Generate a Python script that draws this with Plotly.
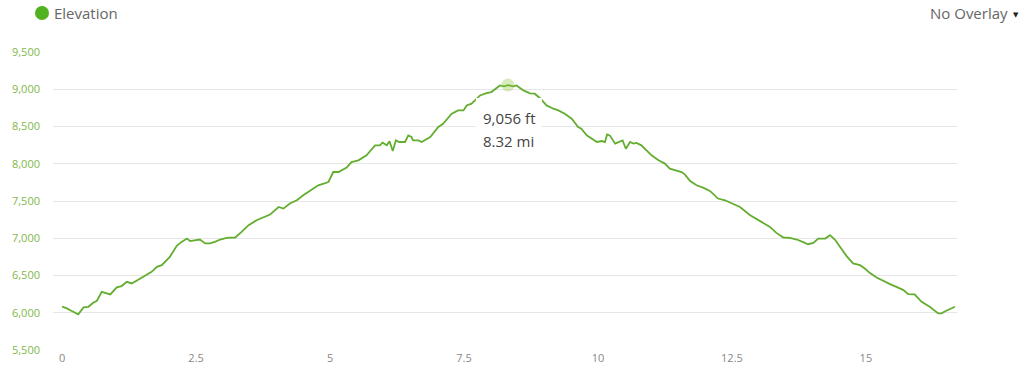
import plotly.graph_objects as go

# Elevation profile (miles, feet)
miles = [0.00, 0.09, 0.18, 0.30, 0.40, 0.49, 0.58, 0.65, 0.74, 0.80, 0.90, 1.02, 1.11, 1.21, 1.30,
         1.46, 1.58, 1.67, 1.77, 1.86, 2.01, 2.14, 2.23, 2.33, 2.39, 2.48, 2.57, 2.67, 2.76, 2.85,
         2.95, 3.07, 3.23, 3.35, 3.48, 3.63, 3.79, 3.88, 4.04, 4.13, 4.25, 4.38, 4.50, 4.63, 4.78,
         4.97, 5.06, 5.16, 5.31, 5.40, 5.53, 5.68, 5.84, 5.93, 5.98, 6.06, 6.11, 6.17, 6.23, 6.29,
         6.40, 6.46, 6.52, 6.55, 6.65, 6.71, 6.87, 7.02, 7.11, 7.27, 7.39, 7.49, 7.55, 7.64, 7.71,
         7.80, 7.92, 8.01, 8.17, 8.25, 8.32, 8.42, 8.48, 8.61, 8.73, 8.82, 8.92, 9.04, 9.17, 9.26,
         9.38, 9.51, 9.63, 9.69, 9.79, 9.88, 9.98, 10.07, 10.13, 10.17, 10.22, 10.32, 10.41, 10.46,
         10.52, 10.60, 10.66, 10.72, 10.81, 10.91, 11.00, 11.13, 11.25, 11.34, 11.44, 11.56, 11.62,
         11.72, 11.84, 11.96, 12.09, 12.24, 12.37, 12.52, 12.65, 12.84, 13.02, 13.21, 13.33, 13.46,
         13.58, 13.71, 13.83, 13.92, 14.02, 14.11, 14.24, 14.33, 14.42, 14.51, 14.64, 14.76, 14.89,
         14.98, 15.07, 15.20, 15.32, 15.45, 15.57, 15.70, 15.79, 15.91, 16.04, 16.19, 16.35, 16.41,
         16.50, 16.66]
elevation_ft = [6081, 6058, 6023, 5978, 6072, 6080, 6134, 6161, 6281, 6268, 6246, 6340, 6358, 6415, 6393,
                6460, 6513, 6549, 6616, 6639, 6750, 6898, 6951, 6996, 6961, 6974, 6983, 6930, 6930, 6951,
                6983, 7005, 7010, 7086, 7175, 7242, 7296, 7318, 7420, 7398, 7466, 7510, 7577, 7644, 7711,
                7755, 7889, 7889, 7948, 8023, 8046, 8113, 8247, 8247, 8283, 8247, 8301, 8171, 8314, 8292,
                8292, 8381, 8359, 8314, 8314, 8292, 8359, 8493, 8537, 8671, 8716, 8716, 8783, 8806, 8850,
                8917, 8948, 8962, 9051, 9040, 9056, 9038, 9051, 8984, 8945, 8940, 8880, 8783, 8739, 8716,
                8671, 8604, 8493, 8470, 8381, 8336, 8292, 8305, 8292, 8394, 8381, 8270, 8292, 8314,
                8202, 8292, 8270, 8279, 8247, 8180, 8113, 8046, 8002, 7935, 7912, 7889, 7858,
                7769, 7711, 7680, 7635, 7533, 7510, 7456, 7420, 7309, 7235, 7152, 7072, 7010,
                7005, 6983, 6947, 6920, 6938, 6996, 6996, 7041, 6983, 6885, 6760, 6662, 6639,
                6594, 6536, 6474, 6429, 6384, 6348, 6304, 6250, 6246, 6147, 6080, 5992, 5992,
                6027, 6080]

peak_mi = 8.32
peak_ft = 9056

y_ticks = [5500, 6000, 6500, 7000, 7500, 8000, 8500, 9000, 9500]
y_tick_labels = ["5,500", "6,000", "6,500", "7,000", "7,500", "8,000", "8,500", "9,000", "9,500"]
x_ticks = [0, 2.5, 5, 7.5, 10, 12.5, 15]
x_tick_labels = ["0", "2.5", "5", "7.5", "10", "12.5", "15"]

FONT = "Open Sans, Segoe UI, DejaVu Sans, sans-serif"

fig = go.Figure()
fig.add_trace(go.Scatter(x=miles, y=elevation_ft, mode="lines",
                         line=dict(color="#63ad2f", width=1.8), hoverinfo="skip", showlegend=False))
fig.add_trace(go.Scatter(x=[peak_mi], y=[peak_ft], mode="markers",
                         marker=dict(size=13, color="rgba(141,198,63,0.35)", line=dict(width=0)),
                         hoverinfo="skip", showlegend=False))

# tooltip box (white) covering the line
fig.add_shape(type="rect", xref="x", yref="y", xsizemode="pixel", ysizemode="pixel",
              xanchor=peak_mi, yanchor=peak_ft, x0=-32, x1=34, y0=-13, y1=-68,
              fillcolor="white", line=dict(width=0), layer="above")

fig.add_annotation(x=peak_mi, y=peak_ft, xref="x", yref="y", text="9,056 ft", showarrow=False,
                   xanchor="left", yanchor="middle", xshift=-27, yshift=-33,
                   font=dict(family=FONT, size=15, color="#444444"))
fig.add_annotation(x=peak_mi, y=peak_ft, xref="x", yref="y", text="8.32 mi", showarrow=False,
                   xanchor="left", yanchor="middle", xshift=-27, yshift=-56,
                   font=dict(family=FONT, size=15, color="#444444"))

# legend-like header
fig.add_shape(type="circle", xref="paper", yref="paper", xsizemode="pixel", ysizemode="pixel",
              xanchor=-11 / 904, yanchor=337 / 298, x0=-7, x1=7, y0=-7, y1=7,
              fillcolor="#52b11e", line=dict(width=0))
fig.add_annotation(x=0, y=337 / 298, xref="paper", yref="paper", text="Elevation", showarrow=False,
                   xanchor="left", yanchor="middle", xshift=-1,
                   font=dict(family=FONT, size=15, color="#666666"))
fig.add_annotation(x=957 / 904, y=337 / 298, xref="paper", yref="paper", text="No Overlay",
                   showarrow=False, xanchor="right", yanchor="middle",
                   font=dict(family=FONT, size=15, color="#666666"))
fig.add_annotation(x=963 / 904, y=335 / 298, xref="paper", yref="paper", text="▼",
                   showarrow=False, xanchor="center", yanchor="middle",
                   font=dict(family="DejaVu Sans", size=7, color="#222222"))

fig.update_xaxes(range=[-0.17, 16.70], tickvals=x_ticks, ticktext=x_tick_labels,
                 showgrid=False, zeroline=False, showline=False,
                 tickfont=dict(family=FONT, size=11, color="#888888"))
fig.update_yaxes(range=[5500, 9500], tickvals=y_ticks, ticktext=y_tick_labels,
                 showgrid=True, gridcolor="#e6e6e6", gridwidth=1, zeroline=False, showline=False,
                 ticklabelstandoff=12,
                 tickfont=dict(family=FONT, size=11, color="#80b84a"))

fig.update_layout(width=1024, height=383, autosize=False,
                  margin=dict(l=53, r=67, t=52, b=33),
                  plot_bgcolor="white", paper_bgcolor="white", showlegend=False)

fig.write_html("out.html")
